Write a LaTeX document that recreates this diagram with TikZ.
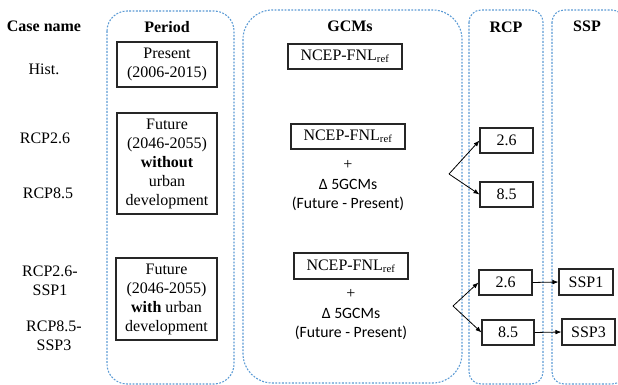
\documentclass[tikz,border=0pt]{standalone}
\usepackage{fontspec}
\setmainfont{Liberation Serif}
\newfontfamily\calibfont{Carlito}
\usetikzlibrary{arrows.meta}
\definecolor{contblue}{HTML}{5B9BD5}
\begin{document}
\begin{tikzpicture}[x=0.75pt,y=-0.75pt,
  every node/.style={font=\fontsize{12pt}{14.25pt}\selectfont},
  container/.style={draw=contblue,line width=0.8pt,dash pattern=on 1.4pt off 1.1pt},
  hdr/.style={font=\fontsize{12pt}{14.25pt}\selectfont\bfseries},
  casetxt/.style={align=center},
  box/.style={draw=black!85,line width=0.8pt,inner sep=0pt,align=center},
  sanstxt/.style={font=\fontsize{11.8pt}{14pt}\selectfont\calibfont,align=center},
  arr/.style={draw=black,line width=0.6pt,-{Latex[length=4.5pt,width=3.5pt]}}]
\useasboundingbox (0,0) rectangle (618,385);
\clip (0,0) rectangle (618,385);
\fill[white] (0,0) rectangle (618,385);
% containers
\draw[container,rounded corners=15pt] (107,11) rectangle (234,384);
\draw[container,rounded corners=22pt] (243,10) rectangle (462,383);
\draw[container,rounded corners=9pt] (469,10) rectangle (543,384);
\draw[container,rounded corners=9pt] (552,10) rectangle (624,384);
% headers
\node[hdr] (hcase) at (44,26) {Case name};
\node[hdr] (hper) at (167,27) {Period};
\node[hdr] (hgcm) at (350,26) {GCMs};
\node[hdr] (hrcp) at (506,27) {RCP};
\node[hdr] (hssp) at (587,26) {SSP};
% case names
\node[casetxt] (c1) at (44,69) {Hist.};
\node[casetxt] (c2) at (45,138) {RCP2.6};
\node[casetxt] (c3) at (48,193) {RCP8.5};
\node[casetxt] (c4) at (50,281) {RCP2.6-\\SSP1};
\node[casetxt] (c5) at (54,336) {RCP8.5-\\SSP3};
% period boxes
\node[box,minimum width=75pt,minimum height=33.75pt] (p1) at (167,64.5) {Present\\(2006-2015)};
\node[box,minimum width=75pt,minimum height=75.75pt] (p2) at (167,163.5) {Future\\(2046-2055)\\\textbf{without}\\urban\\development};
\node[box,minimum width=75.75pt,minimum height=61.5pt] (p3) at (166.5,299) {Future\\(2046-2055)\\\textbf{with} urban\\development};
% GCM boxes
\node[box,minimum width=85.5pt,minimum height=18.75pt] (g1) at (345,56.5) {NCEP-FNL\textsubscript{ref}};
\node[box,minimum width=85.5pt,minimum height=18.75pt] (g2) at (348,136.5) {NCEP-FNL\textsubscript{ref}};
\node (plus1) at (348,165) {+};
\node[sanstxt] (d1) at (348,195) {Δ 5GCMs\\(Future - Present)};
\node[box,minimum width=85.5pt,minimum height=19.5pt] (g3) at (351,266) {NCEP-FNL\textsubscript{ref}};
\node (plus2) at (351,294) {+};
\node[sanstxt] (d2) at (351,324) {Δ 5GCMs\\(Future - Present)};
% RCP boxes
\node[box,minimum width=39.75pt,minimum height=18.75pt] (r1) at (506.5,140.5) {2.6};
\node[box,minimum width=39.75pt,minimum height=18.75pt] (r2) at (506.5,194.5) {8.5};
\node[box,minimum width=39.75pt,minimum height=18.75pt] (r3) at (505.5,282.5) {2.6};
\node[box,minimum width=39pt,minimum height=18.75pt] (r4) at (508,332.5) {8.5};
% SSP boxes
\node[box,minimum width=40.5pt,minimum height=19.5pt] (s1) at (586,282) {SSP1};
\node[box,minimum width=39.75pt,minimum height=19.5pt] (s3) at (588.5,332) {SSP3};
% fork points
\coordinate (f1) at (449,174);
\coordinate (f2) at (453,306);
\draw[arr] (f1) -- (r1.west);
\draw[arr] (f1) -- (r2.west);
\draw[arr] (f2) -- (r3.west);
\draw[arr] (f2) -- (r4.west);
\draw[arr] (r3.east) -- (s1.west);
\draw[arr] (r4.east) -- (s3.west);
\end{tikzpicture}
\end{document}
